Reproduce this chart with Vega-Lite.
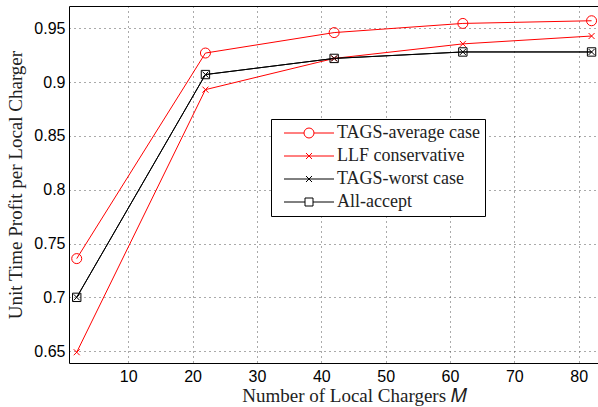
{
  "$schema": "https://vega.github.io/schema/vega-lite/v6.json",
  "width": 529,
  "height": 357,
  "autosize": "none",
  "padding": {"left": 69, "top": 6, "right": 0, "bottom": 44},
  "background": "white",
  "config": {
    "view": {"stroke": null},
    "axis": {
      "domainColor": "black",
      "domainWidth": 1,
      "gridColor": "#555",
      "gridDash": [1, 4],
      "gridWidth": 1,
      "ticks": false,
      "labelFont": "Liberation Sans",
      "labelFontSize": 16,
      "labelColor": "black",
      "titleFont": "Liberation Serif",
      "titleFontSize": 19,
      "titleFontWeight": "normal",
      "titleColor": "#222"
    }
  },
  "resolve": {"axis": {"x": "independent"}},
  "data": {
    "values": [
      {"M": 2, "y": 0.736, "series": "TAGS-average case"},
      {"M": 22, "y": 0.927, "series": "TAGS-average case"},
      {"M": 42, "y": 0.946, "series": "TAGS-average case"},
      {"M": 62, "y": 0.9545, "series": "TAGS-average case"},
      {"M": 82, "y": 0.957, "series": "TAGS-average case"},
      {"M": 2, "y": 0.649, "series": "LLF conservative"},
      {"M": 22, "y": 0.893, "series": "LLF conservative"},
      {"M": 42, "y": 0.922, "series": "LLF conservative"},
      {"M": 62, "y": 0.9355, "series": "LLF conservative"},
      {"M": 82, "y": 0.9428, "series": "LLF conservative"},
      {"M": 2, "y": 0.7, "series": "TAGS-worst case"},
      {"M": 22, "y": 0.907, "series": "TAGS-worst case"},
      {"M": 42, "y": 0.922, "series": "TAGS-worst case"},
      {"M": 62, "y": 0.928, "series": "TAGS-worst case"},
      {"M": 82, "y": 0.928, "series": "TAGS-worst case"},
      {"M": 2, "y": 0.7, "series": "All-accept"},
      {"M": 22, "y": 0.907, "series": "All-accept"},
      {"M": 42, "y": 0.922, "series": "All-accept"},
      {"M": 62, "y": 0.928, "series": "All-accept"},
      {"M": 82, "y": 0.928, "series": "All-accept"}
    ]
  },
  "encoding": {
    "x": {
      "field": "M", "type": "quantitative",
      "scale": {"domain": [0.8, 83], "nice": false, "zero": false},
      "axis": {"values": [10, 20, 30, 40, 50, 60, 70, 80], "title": "Number of Local Chargers 𝑀", "titleX": 285, "labelPadding": 5, "titlePadding": 2}
    },
    "y": {
      "field": "y", "type": "quantitative",
      "scale": {"domain": [0.639, 0.9707], "nice": false, "zero": false},
      "axis": {"values": [0.65, 0.7, 0.75, 0.8, 0.85, 0.9, 0.95], "format": ".2~f", "title": "Unit Time Profit per Local Charger", "labelPadding": 4, "titlePadding": 8}
    },
    "color": {
      "field": "series", "type": "nominal",
      "scale": {"domain": ["TAGS-average case", "LLF conservative", "TAGS-worst case", "All-accept"], "range": ["#ff0000", "#ff0000", "#000000", "#000000"]},
      "legend": {
        "title": null,
        "orient": "none",
        "legendX": 202,
        "legendY": 113,
        "fillColor": "white",
        "strokeColor": "black",
        "padding": 5,
        "labelFont": "Liberation Serif",
        "labelFontSize": 18,
        "labelColor": "#222",
        "symbolSize": 100,
        "symbolOffset": 24,
        "labelOffset": 19,
        "rowPadding": 5,
        "symbolStrokeWidth": 1,
        "symbolFillColor": "transparent",
        "encode": {
          "symbols": {
            "update": {
              "shape": {"signal": "datum.value == 'TAGS-average case' ? 'M-5,0H-1M1,0H5M-1,0A1,1 0 1,0 1,0A1,1 0 1,0 -1,0' : datum.value == 'All-accept' ? 'M-5,0H-0.8M0.8,0H5M-0.8,-0.8H0.8V0.8H-0.8Z' : 'M-5,0H5M-0.6,-0.6L0.6,0.6M-0.6,0.6L0.6,-0.6'"},
              "size": {"value": 100},
              "fill": {"value": "transparent"},
              "opacity": {"value": 1}
            }
          }
        }
      }
    }
  },
  "layer": [
    {
      "mark": {"type": "line", "strokeWidth": 1}
    },
    {
      "transform": [{"filter": "datum.series == 'TAGS-average case'"}],
      "mark": {"type": "point", "filled": false, "strokeWidth": 1, "opacity": 1, "shape": "circle", "size": 100},
      "encoding": {
        "x": {
          "field": "M", "type": "quantitative",
          "scale": {"domain": [0.8, 83], "nice": false, "zero": false},
          "axis": {"orient": "top", "values": [], "labels": false, "ticks": false, "grid": false, "title": null}
        }
      }
    },
    {
      "transform": [{"filter": "datum.series == 'LLF conservative' || datum.series == 'TAGS-worst case'"}],
      "mark": {"type": "point", "filled": false, "strokeWidth": 1, "opacity": 1, "shape": "M-1,-1L1,1M-1,1L1,-1", "size": 36},
      "encoding": {
        "x": {"field": "M", "type": "quantitative", "scale": {"domain": [0.8, 83], "nice": false, "zero": false}, "axis": null}
      }
    },
    {
      "transform": [{"filter": "datum.series == 'All-accept'"}],
      "mark": {"type": "point", "filled": false, "strokeWidth": 1, "opacity": 1, "shape": "square", "size": 70},
      "encoding": {
        "x": {"field": "M", "type": "quantitative", "scale": {"domain": [0.8, 83], "nice": false, "zero": false}, "axis": null}
      }
    }
  ]
}
